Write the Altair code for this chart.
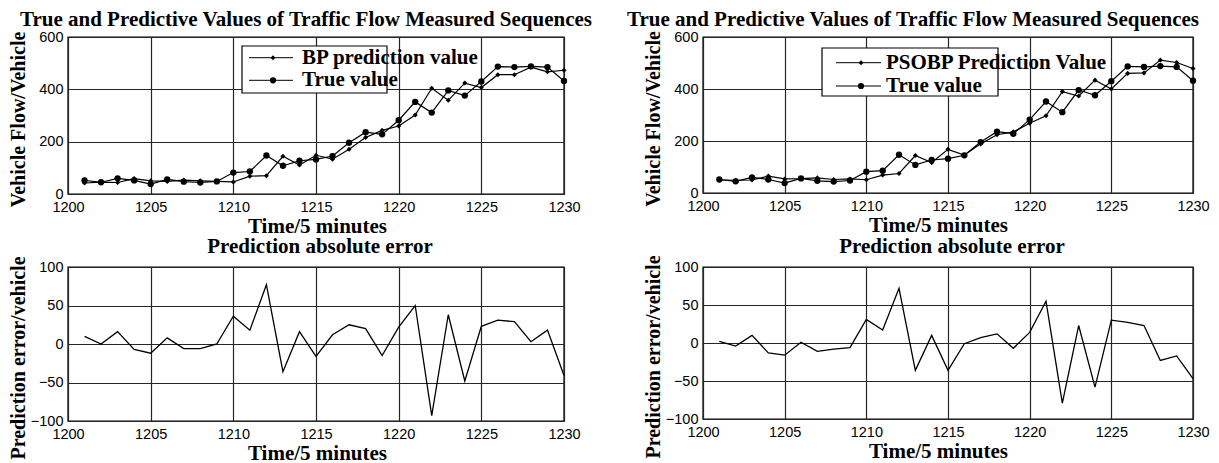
import altair as alt
import pandas as pd

# ---------------- data ----------------
minutes = list(range(1201, 1231))
true_flow = [52, 45, 60, 52, 38, 56, 47, 44, 48, 82, 86, 147, 108, 127, 132,
             145, 196, 236, 228, 282, 352, 311, 396, 376, 430, 487, 485, 488, 485, 432]
bp_pred = [42, 45, 44, 59, 50, 48, 53, 50, 48, 46, 68, 70, 144, 111, 148,
           133, 171, 216, 243, 260, 302, 404, 358, 424, 407, 456, 456, 485, 467, 473]
psobp_pred = [50, 49, 50, 65, 54, 55, 58, 52, 54, 51, 69, 75, 144, 117, 168,
              146, 189, 224, 235, 268, 297, 390, 373, 434, 400, 460, 462, 511, 502, 479]
bp_err = [10, 0, 16, -7, -12, 8, -6, -6, 0, 36, 18, 77, -36, 16, -16,
          12, 25, 20, -15, 22, 50, -93, 38, -48, 23, 31, 29, 3, 18, -41]
psobp_err = [2, -4, 10, -13, -16, 1, -11, -8, -6, 31, 17, 72, -36, 10, -36,
             -1, 7, 12, -7, 14, 55, -79, 23, -58, 30, 27, 23, -23, -17, -47]

x_ticks = [1200, 1205, 1210, 1215, 1220, 1225, 1230]
flow_ticks = [0, 200, 400, 600]
err_ticks = [-100, -50, 0, 50, 100]

main_title = "True and Predictive Values of Traffic Flow Measured Sequences"
err_title = "Prediction absolute error"
x_title = "Time/5 minutes"
flow_ytitle = "Vehicle Flow/Vehicle"
err_ytitle = "Prediction error/vehicle"
true_name = "True value"
bp_name = "BP prediction value"
psobp_name = "PSOBP Prediction Value"

SERIF = "Liberation Serif"
SANS = "Liberation Sans"
FS = 21
GRID = "#262626"


def xaxis(tx):
    return alt.Axis(values=x_ticks, format="d", title=x_title, titleFont=SERIF, titleFontSize=FS,
                    titleFontWeight="bold", titleColor="black", titleX=tx, titleY=38,
                    titleBaseline="alphabetic", titleAlign="center",
                    labelFont=SANS, labelFontSize=14.5, labelColor="black", labelPadding=6,
                    labelFlush=False, labelOverlap=False, ticks=False, domain=False,
                    grid=True, gridColor=GRID, gridWidth=1.2)


def yaxis(vals):
    return alt.Axis(values=vals, format="d", title=None,
                    labelFont=SANS, labelFontSize=14.5, labelColor="black", labelPadding=5,
                    labelFlush=False, labelOverlap=False, ticks=False, domain=False,
                    grid=True, gridColor=GRID, gridWidth=1.2)


def text_layer(s, x, y, size=FS, angle=0, baseline="alphabetic", align="center"):
    d = pd.DataFrame({"label": [s]})
    kw = dict(align=align, baseline=baseline, font=SERIF, fontSize=size, fontWeight="bold", color="black")
    if angle:
        kw["angle"] = angle
    return alt.Chart(d).mark_text(**kw).encode(x=alt.value(x), y=alt.value(y), text="label:N")


def flow_panel(pred, pred_name, w, h, tdx, txdx, lg):
    df = pd.DataFrame({"t": minutes, "true": true_flow, "pred": pred})
    X = alt.X("t:Q", scale=alt.Scale(domain=[1200, 1230], nice=False), axis=xaxis(w / 2 + txdx))
    ysc = alt.Scale(domain=[0, 600], nice=False)
    yax = yaxis(flow_ticks)
    base = alt.Chart(df)
    pl = base.mark_line(color="black", strokeWidth=1.2).encode(x=X, y=alt.Y("pred:Q", scale=ysc, axis=yax))
    pp = base.mark_point(shape="diamond", filled=True, size=26, color="black", opacity=1).encode(
        x=X, y=alt.Y("pred:Q", scale=ysc, axis=yax))
    tl = base.mark_line(color="black", strokeWidth=1.2).encode(x=X, y=alt.Y("true:Q", scale=ysc, axis=yax))
    tp = base.mark_circle(size=40, color="black", opacity=1).encode(
        x=X, y=alt.Y("true:Q", scale=ysc, axis=yax))

    bx1, bx2, by1, by2, lx1, lx2, mx, tx, ey1, ey2 = lg
    one = pd.DataFrame({"label": [pred_name]})
    two = pd.DataFrame({"label": [true_name]})
    box = alt.Chart(one).mark_rect(fill="white", stroke="black", strokeWidth=1.2).encode(
        x=alt.value(bx1), x2=alt.value(bx2), y=alt.value(by1), y2=alt.value(by2))
    layers = [pl, tl, pp, tp, box]
    for d, ey, shape, size in [(one, ey1, "diamond", 24), (two, ey2, "circle", 38)]:
        layers.append(alt.Chart(d).mark_rule(color="black", strokeWidth=1).encode(
            x=alt.value(lx1), x2=alt.value(lx2), y=alt.value(ey)))
        layers.append(alt.Chart(d).mark_point(shape=shape, filled=True, size=size, color="black",
                                              opacity=1).encode(x=alt.value(mx), y=alt.value(ey)))
        layers.append(alt.Chart(d).mark_text(align="left", baseline="middle", font=SERIF, fontSize=FS,
                                             fontWeight="bold", color="black").encode(
            x=alt.value(tx), y=alt.value(ey), text="label:N"))
    layers.append(text_layer(main_title, w / 2 + tdx, -11))
    layers.append(text_layer(flow_ytitle, -49, h / 2 + 4, size=20, angle=270, baseline="middle"))
    return alt.layer(*layers).properties(width=w, height=h)


def err_panel(err, w, h, txdx):
    df = pd.DataFrame({"t": minutes, "err": err})
    X = alt.X("t:Q", scale=alt.Scale(domain=[1200, 1230], nice=False), axis=xaxis(w / 2 + txdx))
    Y = alt.Y("err:Q", scale=alt.Scale(domain=[-100, 100], nice=False), axis=yaxis(err_ticks))
    line = alt.Chart(df).mark_line(color="black", strokeWidth=1.3).encode(x=X, y=Y)
    return alt.layer(
        line,
        text_layer(err_title, w / 2 + 4, -14),
        text_layer(err_ytitle, -49, h / 2 + 14, size=20, angle=270, baseline="middle"),
    ).properties(width=w, height=h)


tl_chart = flow_panel(bp_pred, bp_name, 496, 157, -10, 1,
                      (174, 319, 9, 56, 181, 225, 205, 234, 20.7, 43.3))
tr_chart = flow_panel(psobp_pred, psobp_name, 490, 156, -35, -10,
                      (119, 295, 11, 59, 133, 178, 158, 183, 25.7, 49))
bl_chart = err_panel(bp_err, 496, 154, 1)
br_chart = err_panel(psobp_err, 490, 152, -10)

chart = alt.concat(tl_chart, tr_chart, bl_chart, br_chart, columns=2,
                   spacing={"row": 73, "column": 139}, bounds="flush").properties(
    padding=0, background="white"
).configure_view(stroke="black", strokeWidth=1.4)

chart.save("out.html", embed_options={"renderer": "svg", "actions": False})
